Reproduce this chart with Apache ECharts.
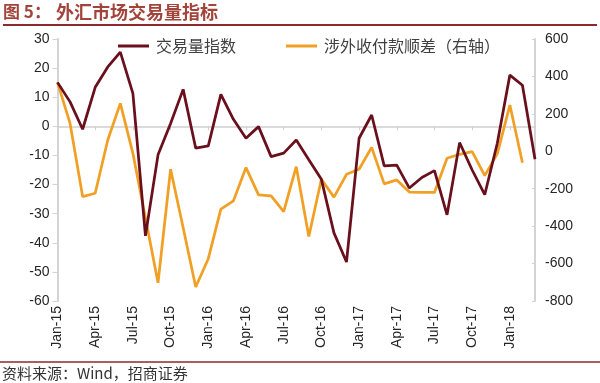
<!DOCTYPE html>
<html>
<head>
<meta charset="utf-8">
<script src="https://cdn.jsdelivr.net/npm/echarts@6/dist/echarts.min.js"></script>
<style>
html,body{margin:0;padding:0;background:#fff;}
#chart{width:600px;height:383px;}
</style>
</head>
<body>
<div id="chart"></div>
<script>
var months = ['Jan-15','Feb-15','Mar-15','Apr-15','May-15','Jun-15','Jul-15','Aug-15','Sep-15','Oct-15','Nov-15','Dec-15',
  'Jan-16','Feb-16','Mar-16','Apr-16','May-16','Jun-16','Jul-16','Aug-16','Sep-16','Oct-16','Nov-16','Dec-16',
  'Jan-17','Feb-17','Mar-17','Apr-17','May-17','Jun-17','Jul-17','Aug-17','Sep-17','Oct-17','Nov-17','Dec-17',
  'Jan-18','Feb-18','Mar-18'];
var volumeIndex = [15.1, 8.4, -1.0, 13.4, 20.4, 25.5, 11.3, -37.6, -9.8, 1.0, 12.7, -7.5,
  -6.7, 11.0, 2.4, -4.1, -0.1, -10.4, -9.2, -4.7, -11.5, -18.2, -36.6, -46.6,
  -4.1, 3.9, -13.6, -13.3, -21.2, -17.6, -15.2, -30.4, -5.6, -15.0, -23.5, -5.8,
  17.6, 14.1, -11.3];
var surplus = [368, 149, -242, -224, 60, 256, -11, -356, -703, -96, -409, -725,
  -574, -309, -265, -87, -233, -238, -322, -82, -455, -149, -245, -123,
  -96, 21, -174, -153, -218, -220, -220, -37, -16, -2, -130, -14,
  247, -61, null];
var leftTicks = {min: -60, max: 30, interval: 10};
var rightTicks = {min: -800, max: 600, interval: 200};
var names = ['交易量指数', '涉外收付款顺差（右轴）'];
var titlePrefix = '图 5：';
var titleMain = '外汇市场交易量指标';
var sourceText = '资料来源：Wind，招商证券';

var chart = echarts.init(document.getElementById('chart'), null, {renderer: 'canvas'});
var axisFont = 'Liberation Sans, Arial, sans-serif';
var cjkFont = 'Noto Sans CJK SC, sans-serif';
var option = {
  animation: false,
  backgroundColor: '#ffffff',
  grid: {left: 57.5, right: 65, top: 39, bottom: 82},
  legend: {
    left: 118, top: 38, padding: 0,
    itemWidth: 31, itemHeight: 3, itemGap: 50, icon: 'rect',
    textStyle: {fontSize: 16, color: '#404040', fontFamily: cjkFont, padding: [0,0,0,2]},
    data: [names[0], names[1]]
  },
  xAxis: [{
    type: 'category', data: months, boundaryGap: false, position: 'bottom',
    axisLine: {onZero: true, onZeroAxisIndex: 0, lineStyle: {color: '#d0d0d0', width: 1.5}},
    axisTick: {show: true, interval: 2, length: 4, lineStyle: {color: '#d0d0d0'}},
    axisLabel: {show: false},
    splitLine: {show: false}
  }, {
    type: 'category', data: months, boundaryGap: false, position: 'bottom',
    axisLine: {show: false, onZero: false},
    axisTick: {show: false},
    axisLabel: {show: true, interval: 2, rotate: 90, margin: 5, fontSize: 14, color: '#262626', fontFamily: axisFont},
    splitLine: {show: false}
  }],
  yAxis: [{
    type: 'value', min: leftTicks.min, max: leftTicks.max, interval: leftTicks.interval,
    axisLine: {show: true, lineStyle: {color: '#d4d4d4', width: 2}},
    axisTick: {show: true, length: 5, lineStyle: {color: '#d4d4d4'}},
    axisLabel: {fontSize: 14, color: '#262626', fontFamily: axisFont, margin: 8},
    splitLine: {show: false}
  }, {
    type: 'value', min: rightTicks.min, max: rightTicks.max, interval: rightTicks.interval,
    position: 'right',
    axisLine: {show: true, lineStyle: {color: '#d4d4d4', width: 2}},
    axisTick: {show: true, inside: true, length: 3, lineStyle: {color: '#d4d4d4'}},
    axisLabel: {fontSize: 14, color: '#262626', fontFamily: axisFont, margin: 10},
    splitLine: {show: false}
  }],
  series: [{
    name: names[1], type: 'line', xAxisIndex: 0, yAxisIndex: 1, data: surplus,
    symbol: 'none', lineStyle: {color: '#f0a024', width: 2.75}, itemStyle: {color: '#f0a024'}, z: 2
  }, {
    name: names[0], type: 'line', xAxisIndex: 0, yAxisIndex: 0, data: volumeIndex,
    symbol: 'none', lineStyle: {color: '#6a0f1c', width: 2.75}, itemStyle: {color: '#6a0f1c'}, z: 3
  }],
  graphic: [
    {type: 'text', left: 3, top: 3, style: {text: titlePrefix, fontSize: 17, fontWeight: 'bold', fill: '#a2443a', fontFamily: cjkFont}},
    {type: 'text', left: 56, top: 3, style: {text: titleMain, fontSize: 18, fontWeight: 'bold', fill: '#a2443a', fontFamily: cjkFont}},
    {type: 'line', shape: {x1: 3, y1: 25, x2: 597, y2: 25}, style: {stroke: '#8b2a2a', lineWidth: 2}},
    {type: 'line', shape: {x1: 0, y1: 362, x2: 600, y2: 362}, style: {stroke: '#8b2a2a', lineWidth: 1.5}},
    {type: 'text', left: 2, top: 366, style: {text: sourceText, fontSize: 15, fill: '#333', fontFamily: cjkFont}}
  ]
};
chart.setOption(option);
</script>
</body>
</html>
